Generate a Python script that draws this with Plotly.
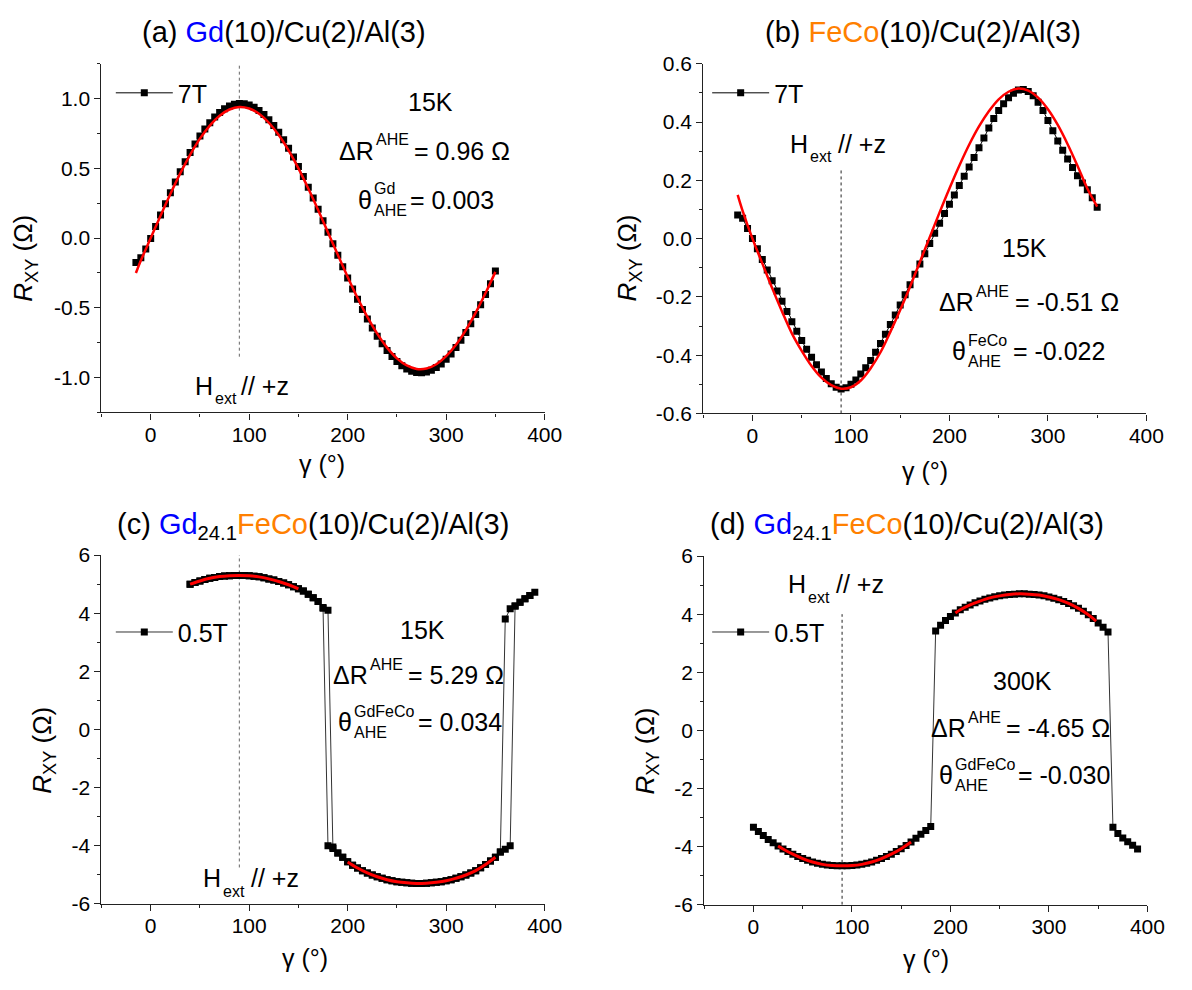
import plotly.graph_objects as go

W, H = 1192, 990
FONT = "Liberation Sans, Arial, Helvetica, sans-serif"
BLUE = "#0000FF"
ORANGE = "#FF8000"

# ---------------- data ----------------
gamma_a = list(range(-15, 351, 5))
rxy_a = [-0.175, -0.140, -0.078, -0.002,
         0.083, 0.165, 0.246, 0.326, 0.402, 0.476, 0.547, 0.613, 0.675, 0.732,
         0.783, 0.828, 0.868, 0.901, 0.927, 0.947, 0.959, 0.965,
         0.963, 0.954, 0.938, 0.915, 0.886, 0.849, 0.807, 0.759, 0.705, 0.645,
         0.581, 0.513, 0.441, 0.365, 0.287, 0.207, 0.125, 0.042,
         -0.041, -0.123, -0.205, -0.285, -0.364, -0.439, -0.511, -0.580, -0.644,
         -0.703, -0.757, -0.806, -0.849, -0.885, -0.915, -0.938, -0.954, -0.963,
         -0.965, -0.960, -0.947, -0.928, -0.902, -0.869, -0.830, -0.784, -0.733,
         -0.676, -0.614, -0.548, -0.478, -0.404, -0.327, -0.235]
fit_gamma_a = [-15, -10] + list(range(0, 351, 10))
fit_a = [-0.25, -0.161,
         0.0, 0.161, 0.317, 0.464, 0.597, 0.713, 0.807, 0.878, 0.922, 0.940,
         0.929, 0.892, 0.827, 0.739, 0.629, 0.500, 0.356, 0.202, 0.041,
         -0.120, -0.278, -0.428, -0.565, -0.685, -0.785, -0.862, -0.913, -0.938,
         -0.935, -0.904, -0.846, -0.764, -0.659, -0.534, -0.394, -0.242]

gamma_b = list(range(-15, 351, 5))
rxy_b = [0.081, 0.070, 0.035, 0.000,
         -0.035, -0.072, -0.108, -0.145, -0.180, -0.215, -0.250, -0.285, -0.318,
         -0.350, -0.380, -0.407, -0.433, -0.458, -0.480, -0.498, -0.510, -0.516,
         -0.512, -0.500, -0.485, -0.465, -0.443, -0.418, -0.390, -0.360, -0.328,
         -0.295, -0.262, -0.228, -0.193, -0.158, -0.122, -0.087, -0.052, -0.017,
         0.018, 0.053, 0.086, 0.118, 0.150, 0.182, 0.214, 0.246, 0.278,
         0.312, 0.345, 0.380, 0.412, 0.440, 0.463, 0.483, 0.499, 0.510,
         0.512, 0.505, 0.490, 0.468, 0.440, 0.405, 0.370, 0.335, 0.303,
         0.273, 0.244, 0.216, 0.191, 0.168, 0.140, 0.108]
fit_gamma_b = [-15, -10] + list(range(0, 351, 10))
fit_b = [0.150, 0.095,
         0.0, -0.085, -0.170, -0.250, -0.325, -0.385, -0.437, -0.477, -0.503, -0.515,
         -0.510, -0.487, -0.445, -0.390, -0.320, -0.245, -0.165, -0.080, 0.005,
         0.090, 0.172, 0.250, 0.322, 0.385, 0.437, 0.478, 0.504, 0.515,
         0.508, 0.484, 0.444, 0.390, 0.324, 0.250, 0.172, 0.110]

# panel (c): forward sweep then backward sweep
gamma_c_fwd = list(range(40, 391, 5))
rxy_c_fwd = [5.00, 5.06, 5.11, 5.16, 5.20, 5.23, 5.26, 5.28, 5.29, 5.30, 5.30, 5.30,
             5.29, 5.27, 5.25, 5.22, 5.18, 5.14, 5.09, 5.04, 4.98, 4.91, 4.84, 4.76,
             4.65, 4.53, 4.40, 4.17,
             -4.00, -4.10, -4.25, -4.40, -4.55, -4.67, -4.77, -4.86, -4.94, -5.01,
             -5.07, -5.12, -5.17, -5.21, -5.24, -5.26, -5.28, -5.29, -5.30, -5.30,
             -5.29, -5.28, -5.26, -5.24, -5.21, -5.17, -5.12, -5.07, -5.01, -4.94,
             -4.86, -4.76, -4.65, -4.53, -4.40, -4.22,
             3.80, 4.15, 4.25, 4.38, 4.50, 4.61, 4.72]
gamma_c_bwd = list(range(385, 39, -5))
rxy_c_bwd = [4.61, 4.50, 4.38, 4.25, -4.00, -4.12,
             -4.22, -4.40, -4.53, -4.65, -4.76, -4.86, -4.94, -5.01, -5.07, -5.12,
             -5.17, -5.21, -5.24, -5.26, -5.28, -5.29, -5.30, -5.30, -5.29, -5.28,
             -5.26, -5.24, -5.21, -5.17, -5.12, -5.07, -5.01, -4.94, -4.86, -4.77,
             -4.67, -4.55, -4.40, -4.25, -4.05,
             4.10, 4.20, 4.40, 4.53, 4.65, 4.76, 4.84, 4.91, 4.98, 5.04, 5.09, 5.14,
             5.18, 5.22, 5.25, 5.27, 5.29, 5.30, 5.30, 5.30, 5.29, 5.28, 5.26, 5.23,
             5.20, 5.16, 5.11, 5.06, 5.00]
fit_gamma_c_up = list(range(40, 151, 10))
fit_c_up = [5.00, 5.11, 5.20, 5.26, 5.29, 5.30, 5.29, 5.25, 5.18, 5.09, 4.98, 4.84]
fit_gamma_c_low = list(range(200, 351, 10))
fit_c_low = [-4.56, -4.77, -4.94, -5.07, -5.17, -5.24, -5.28, -5.30, -5.29, -5.26,
             -5.21, -5.12, -5.01, -4.86, -4.65, -4.40]

gamma_d = list(range(0, 391, 5))
rxy_d = [-3.33, -3.48, -3.62, -3.75, -3.87, -3.98, -4.08, -4.17, -4.26, -4.34,
         -4.41, -4.47, -4.53, -4.57, -4.61, -4.63, -4.65, -4.66, -4.66, -4.66,
         -4.65, -4.63, -4.61, -4.57, -4.53, -4.47, -4.41, -4.34, -4.26, -4.17,
         -4.07, -3.96, -3.84, -3.71, -3.57, -3.44, -3.31,
         3.42, 3.62, 3.78, 3.92, 4.04, 4.15, 4.24, 4.32, 4.39, 4.45, 4.51, 4.56,
         4.60, 4.63, 4.66, 4.68, 4.69, 4.70, 4.70, 4.69, 4.68, 4.66, 4.63, 4.59,
         4.55, 4.50, 4.44, 4.37, 4.29, 4.20, 4.10, 3.98, 3.85, 3.70, 3.55, 3.39,
         -3.33, -3.55, -3.70, -3.83, -3.95, -4.08]
fit_gamma_d_low = [25] + list(range(30, 161, 10))
fit_d_low = [-3.98, -4.08, -4.26, -4.41, -4.53, -4.61, -4.65, -4.66, -4.65, -4.61,
             -4.53, -4.41, -4.26, -4.07, -3.84]
fit_gamma_d_up = [205] + list(range(210, 341, 10)) + [348]
fit_d_up = [4.04, 4.15, 4.32, 4.45, 4.56, 4.63, 4.68, 4.70, 4.69, 4.66, 4.59, 4.50,
            4.37, 4.20, 3.98, 3.76]

# reference direction H_ext // +z at gamma = 90 deg
hext_gamma = 90
hext_span_a = [-0.85, 1.25]
hext_span_b = [-0.6, 0.236]
hext_span_c = [-4.75, 6]
hext_span_d = [-6, 4.0]

# ticks
x_range = [-50, 400]
x_ticks = [0, 100, 200, 300, 400]
x_minor = [-50, 50, 150, 250, 350]
y_ticks_a = [-1.0, -0.5, 0.0, 0.5, 1.0]
y_text_a = ["-1.0", "-0.5", "0.0", "0.5", "1.0"]
y_minor_a = [-1.25, -0.75, -0.25, 0.25, 0.75, 1.25]
y_ticks_b = [-0.6, -0.4, -0.2, 0.0, 0.2, 0.4, 0.6]
y_text_b = ["-0.6", "-0.4", "-0.2", "0.0", "0.2", "0.4", "0.6"]
y_minor_b = [-0.5, -0.3, -0.1, 0.1, 0.3, 0.5]
y_ticks_cd = [-6, -4, -2, 0, 2, 4, 6]
y_text_cd = ["-6", "-4", "-2", "0", "2", "4", "6"]
y_minor_cd = [-5, -3, -1, 1, 3, 5]

legend_names = ["7T", "7T", "0.5T", "0.5T"]

# ---------------- figure ----------------
fig = go.Figure()

def axn(i):
    return "" if i == 1 else str(i)

def add_panel(i, hspan, gx, gy, fits, name, line_color, fit_width, hcolor):
    xa, ya = "x" + axn(i), "y" + axn(i)
    fig.add_trace(go.Scatter(x=[hext_gamma, hext_gamma], y=hspan, mode="lines",
                             line=dict(color=hcolor, width=1, dash="dot"),
                             xaxis=xa, yaxis=ya, showlegend=False, hoverinfo="skip"))
    fig.add_trace(go.Scatter(x=gx, y=gy, mode="lines+markers", name=name,
                             line=dict(color=line_color, width=1),
                             marker=dict(symbol="square", size=7, color="black"),
                             xaxis=xa, yaxis=ya, showlegend=True,
                             legend="legend" + axn(i)))
    for fx, fy in fits:
        fig.add_trace(go.Scatter(x=fx, y=fy, mode="lines", line_shape="spline",
                                 line=dict(color="#FF0000", width=fit_width),
                                 xaxis=xa, yaxis=ya, showlegend=False))

add_panel(1, hext_span_a, gamma_a, rxy_a, [(fit_gamma_a, fit_a)], legend_names[0],
          "black", 2.5, "#666666")
add_panel(2, hext_span_b, gamma_b, rxy_b, [(fit_gamma_b, fit_b)], legend_names[1],
          "black", 2.5, "#222222")
add_panel(3, hext_span_c, gamma_c_fwd + gamma_c_bwd, rxy_c_fwd + rxy_c_bwd,
          [(fit_gamma_c_up, fit_c_up), (fit_gamma_c_low, fit_c_low)], legend_names[2],
          "#333333", 3, "#666666")
add_panel(4, hext_span_d, gamma_d, rxy_d,
          [(fit_gamma_d_low, fit_d_low), (fit_gamma_d_up, fit_d_up)], legend_names[3],
          "#333333", 3, "#222222")

panels = [
    # x0, x1, y0(top px), y1(bottom px), yrange, ticks, text, minor
    (103, 553, 53, 410, [-1.25, 1.25], y_ticks_a, y_text_a, y_minor_a),
    (714, 1164, 53, 411, [-0.6, 0.6], y_ticks_b, y_text_b, y_minor_b),
    (103, 553, 556, 913, [-6, 6], y_ticks_cd, y_text_cd, y_minor_cd),
    (715, 1165, 557, 914, [-6, 6], y_ticks_cd, y_text_cd, y_minor_cd),
]

LINE = "#222222"
layout = dict(width=W, height=H, autosize=False,
              margin=dict(l=0, r=0, t=0, b=0),
              paper_bgcolor="white", plot_bgcolor="white",
              font=dict(family=FONT, color="black"))

tickfont = dict(family=FONT, size=21, color="black")
for i, (x0, x1, t, b, yr, yt, ytt, ym) in enumerate(panels, start=1):
    xd = [x0 / W, x1 / W]
    yd = [1 - b / H, 1 - t / H]
    layout["xaxis" + axn(i)] = dict(
        domain=xd, anchor="y" + axn(i), range=x_range, showgrid=False, zeroline=False,
        showline=True, linecolor=LINE, linewidth=1.2, ticks="outside", ticklen=6,
        tickwidth=1.2, tickcolor=LINE, tickmode="array", tickvals=x_ticks,
        ticktext=[str(v) for v in x_ticks], tickfont=tickfont, ticklabelstandoff=-3,
        minor=dict(ticks="outside", ticklen=3, tickwidth=1.2, tickcolor=LINE,
                   tickmode="array", tickvals=x_minor))
    layout["yaxis" + axn(i)] = dict(
        domain=yd, anchor="x" + axn(i), range=yr, showgrid=False, zeroline=False,
        showline=True, linecolor=LINE, linewidth=1.2, ticks="outside", ticklen=6,
        tickwidth=1.2, tickcolor=LINE, tickmode="array", tickvals=yt, ticktext=ytt,
        tickfont=tickfont,
        minor=dict(ticks="outside", ticklen=3, tickwidth=1.2, tickcolor=LINE,
                   tickmode="array", tickvals=ym))
    # mirrored inner ticks on top / right
    layout["xaxis" + str(i + 4)] = dict(
        domain=xd, overlaying="x" + axn(i), anchor="y" + axn(i), side="top",
        range=x_range, showgrid=False, zeroline=False, showline=True, linecolor=LINE,
        linewidth=1.2, ticks="inside", ticklen=6, tickwidth=1.2, tickcolor=LINE,
        tickmode="array", tickvals=x_ticks, showticklabels=False,
        minor=dict(ticks="inside", ticklen=3, tickwidth=1.2, tickcolor=LINE,
                   tickmode="array", tickvals=x_minor))
    layout["yaxis" + str(i + 4)] = dict(
        domain=yd, overlaying="y" + axn(i), anchor="x" + axn(i), side="right",
        range=yr, showgrid=False, zeroline=False, showline=True, linecolor=LINE,
        linewidth=1.2, ticks="inside", ticklen=6, tickwidth=1.2, tickcolor=LINE,
        tickmode="array", tickvals=yt, showticklabels=False,
        minor=dict(ticks="inside", ticklen=3, tickwidth=1.2, tickcolor=LINE,
                   tickmode="array", tickvals=ym))

# legends
leg_pos = [(112.5, 83), (718, 83), (112.5, 635), (718, 635)]
for i, (lx, ly) in enumerate(leg_pos, start=1):
    layout["legend" + axn(i)] = dict(
        x=lx / W, y=1 - ly / H, xanchor="left", yanchor="middle",
        bgcolor="rgba(0,0,0,0)", borderwidth=0, itemwidth=57,
        font=dict(family=FONT, size=25, color="black"))

ann = []

def A(x, y, text, size=25, xa="center", angle=0):
    ann.append(dict(xref="paper", yref="paper", x=x / W, y=1 - y / H, text=text,
                    showarrow=False, xanchor=xa, yanchor="middle", textangle=angle,
                    borderpad=0, font=dict(family=FONT, size=size, color="black")))

def blue(s):
    return "<span style='color:%s'>%s</span>" % (BLUE, s)

def orange(s):
    return "<span style='color:%s'>%s</span>" % (ORANGE, s)

# titles
A(288, 20, "(a) " + blue("Gd") + "(10)/Cu(2)/Al(3)", size=29)
A(937, 20, "(b) " + orange("FeCo") + "(10)/Cu(2)/Al(3)", size=29)
A(318, 526, "(c) " + blue("Gd") + "<sub>24.1</sub>" + orange("FeCo") + "(10)/Cu(2)/Al(3)", size=29)
A(921, 526, "(d) " + blue("Gd") + "<sub>24.1</sub>" + orange("FeCo") + "(10)/Cu(2)/Al(3)", size=29)

# axis titles
ytitle = "<i>R</i><sub>XY</sub> (Ω)"
xtitle = "γ (°)"
for (xp, yp) in [(25, 252), (638, 252), (44, 756), (656, 757)]:
    A(xp, yp, ytitle, size=26, angle=-90)
for (xp, yp) in [(327, 463), (939, 470), (310, 968), (940, 970)]:
    A(xp, yp, xtitle, size=25)

def hext(xh, y, xsl):
    A(xh, y, "H", xa="right")
    A(xh, y + 13, "ext", size=16, xa="left")
    A(xsl, y, "// +z", xa="left")

def delta_r(xr, y, xv, val):
    A(xr, y, "ΔR", xa="right")
    A(xr, y - 11, "AHE", size=16, xa="left")
    A(xv, y, "= " + val + " Ω", xa="left")

def theta(xt, y, sup, xv, val):
    A(xt, y, "θ", xa="right")
    A(xt, y - 11, sup, size=16, xa="left")
    A(xt, y + 11, "AHE", size=16, xa="left")
    A(xv, y, "= " + val, xa="left")

# panel (a)
A(437, 92, "15K")
delta_r(381, 142, 419, "0.96")
theta(379, 192, "Gd", 415, "0.003")
hext(217, 383, 244)
# panel (b)
hext(821, 135, 850)
A(1040, 242, "15K")
delta_r(990, 297, 1030, "-0.51")
theta(982, 347, "FeCo", 1028, "-0.022")
# panel (c)
A(429, 633, "15K")
delta_r(375, 679, 413, "5.29")
theta(358, 727, "GdFeCo", 423, "0.034")
hext(225, 887, 254)
# panel (d)
hext(819, 586, 848)
A(1038, 685, "300K")
delta_r(982, 733, 1020, "-4.65")
theta(969, 781, "GdFeCo", 1033, "-0.030")

layout["annotations"] = ann
fig.update_layout(**layout)
fig.write_html("out.html")
